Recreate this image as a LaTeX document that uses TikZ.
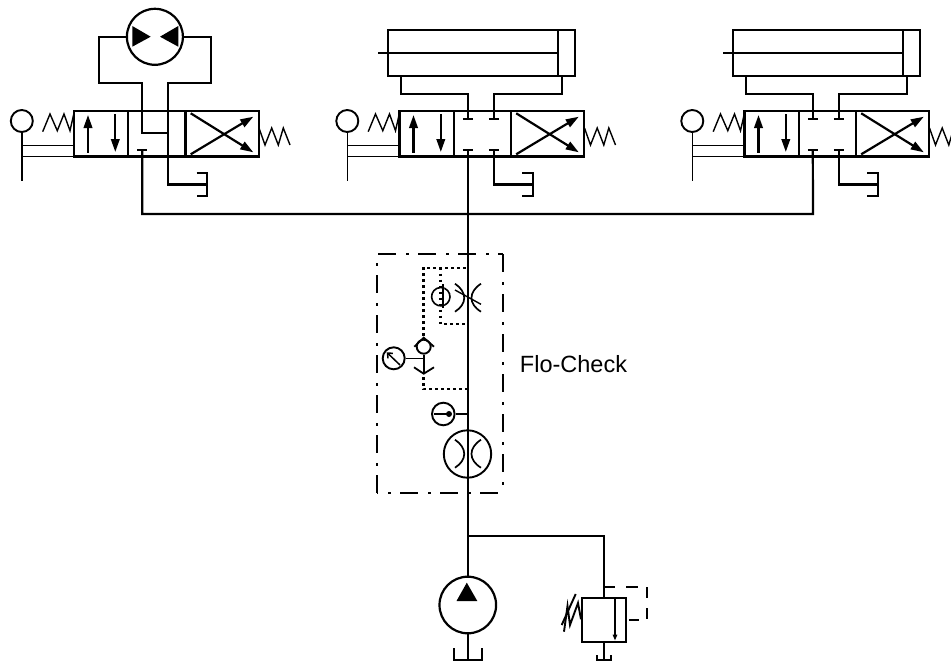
\documentclass[tikz,border=0pt]{standalone}
\usepackage{fontspec}
\setmainfont{Liberation Sans}
\usetikzlibrary{arrows.meta}
\tikzset{
  pipe/.style={line width=2.2pt,line join=miter},
  thin line/.style={line width=1.4pt},
  bigarrow/.style={line width=2.2pt,-{Triangle[length=13pt,width=8.5pt]}},
  pilot/.style={line width=2.3pt,dash pattern=on 2.6pt off 3.4pt},
  flobox/.style={line width=2.2pt,dash pattern=on 18pt off 10pt on 2.5pt off 9.5pt},
  round/.style={draw,circle,inner sep=0pt,minimum size=#1,line width=1.9pt},
  pics/tank/.style={code={
    \draw[pipe] (-10.6,-11.4) -- (0,-11.4) -- (0,11.4) -- (-10.6,11.4);
  }},
  pics/orifice/.style={code={
    \draw[line width=1.7pt] (-12.3,-14.3) .. controls (0,-6) and (0,6) .. (-12.3,13.7);
    \draw[line width=1.7pt] (13.7,-14.3) .. controls (1,-6) and (1,6) .. (13.7,13.7);
  }},
  pics/spool/.style={code={
    %% body and cells
    \draw[pipe] (0,110.8) rectangle (184.6,156.5);
    \draw[pipe] (54.3,110.8) -- (54.3,156.5);
    \draw[pipe] (111.4,110.8) -- (111.4,156.5);
    \draw[bigarrow] (14,152.5) -- (14,115);
    \draw[bigarrow] (41.3,114) -- (41.3,152);
    \draw[bigarrow] (116.7,113.3) -- (179.3,152.3);
    \draw[bigarrow] (116.7,154.3) -- (179.3,116.7);
    %% springs
    \draw[thin line] (-31.3,131.7) -- (-24,114) -- (-16.7,130.7) -- (-10,114) -- (-4,130.7) -- (0,113);
    \draw[thin line] (185,128) -- (191,145) -- (197.7,128) -- (204.3,145) -- (209.3,128) -- (216,145);
    %% hand lever
    \node[round=22pt] (-knob) at (-52.2,121) {};
    \draw[thin line] (-knob.south) -- (-52.2,181);
    \draw[thin line] (-52.2,145.3) -- (0,145.3);
    \draw[thin line] (-52.2,156.5) -- (0,156.5);
    %% inlet port
    \coordinate (-inlet) at (68.3,150.3);
    \draw[pipe] (63.3,150.3) -- (73.3,150.3);
    %% tank
    \coordinate (-drain) at (94.3,184.5);
    \coordinate (-sump) at (133.3,184.5);
    \pic at (133.3,184.5) {tank};
  }},
  pics/cylinder/.style={code={
    \draw[pipe] (-11.2,30) rectangle (175.4,76);
    \draw[pipe] (158.2,30) -- (158.2,76);
    \draw[pipe] (-21.2,53) -- (158.2,53);
    %% lines to the valve
    \draw[pipe] (1.5,76) |- (68.3,94) -- (68.3,118.7);
    \draw[pipe] (162.8,76) |- (94.3,94) -- (94.3,118.7);
    \draw[pipe] (63.3,118.7) -- (73.3,118.7);
    \draw[pipe] (89.3,118.7) -- (99.3,118.7);
    %% second lower port
    \draw[pipe] (89.3,150.3) -- (99.3,150.3);
    \draw[pipe] (94.3,150.3) |- (133.3,184.5);
  }},
}
\begin{document}
\begin{tikzpicture}[x=1pt,y=-1pt]
  \useasboundingbox (0,0) rectangle (951,661);
  \clip (0,0) rectangle (951,661);
  %% three valves
  \pic (vA) at (74,0) {spool};
  \pic (vB) at (399.5,0) {spool};
  \pic (vC) at (744.5,0) {spool};
  \pic at (399.5,0) {cylinder};
  \pic at (744.5,0) {cylinder};
  %% motor on the first valve
  \node[round=56pt,line width=2.2pt] (motor) at (154.9,36.8) {};
  \fill (132.3,26) -- (132.3,46.7) -- (150.7,36.7) -- cycle;
  \fill (178.3,26) -- (178.3,46.7) -- (160,36.7) -- cycle;
  \coordinate (mL) at (142.3,132.7);
  \coordinate (mR) at (168.3,132.7);
  \draw[pipe] (motor.west) -| (99.3,82.7) -| (mL) -- (mR);
  \draw[pipe] (motor.east) -| (210.7,82.7) -| (vA-drain) -- (vA-sump);
  %% pressure line
  \coordinate (busA) at (142.3,214);
  \coordinate (busC) at (813,214);
  \draw[pipe] (vA-inlet) -- (busA) -- (busC) -- (vC-inlet);
  %% pump and relief valve
  \node[round=56.6pt,line width=2.2pt] (pump) at (467.8,605) {};
  \fill (456.5,601) -- (477.3,601) -- (466.8,582.7) -- cycle;
  \draw[pipe] (vB-inlet) -- (467.8,577);
  \draw[pipe] (pump.south) -- (467.8,660) ;
  \draw[pipe] (454,648.3) |- (481.7,660) -- (481.7,648.3);
  \node[draw,line width=2.2pt,minimum width=44.6pt,minimum height=44.3pt,inner sep=0pt] (relief) at (604,619.8) {};
  \coordinate (tee) at (467.8,535.7);
  \draw[pipe] (tee) -| (relief.north);
  \draw[line width=1.4pt,-{Triangle[length=6pt,width=4.5pt]}] (615,597.7) -- (615,640.5);
  \draw[pipe] (relief.south) -- (604,660);
  \draw[pipe] (596.7,655) |- (611,660) -- (611,655);
  \draw[line width=1.9pt] (581,619.3) -- (578,603) -- (570,625) -- (567.5,606) -- (564,631.7);
  \draw[line width=1.9pt] (561.7,625) -- (575.7,594);
  %% pilot
  \draw[line width=2pt,dash pattern=on 12pt off 11pt] (603,587) -- (648,587);
  \draw[line width=2pt,dash pattern=on 11pt off 10pt] (647.3,587) -- (647.3,619);
  \draw[line width=2pt] (relief.east) ++(2,0) -- ++(10,0);
  %% flo-check housing
  \coordinate (fTL) at (376.7,254);
  \coordinate (fTR) at (503.3,254);
  \coordinate (fBR) at (503.3,493.3);
  \coordinate (fBL) at (376.7,493.3);
  \draw[flobox] (378.3,254) -- (fTR);
  \draw[flobox] (fTR) -- (fBR);
  \draw[flobox,dash phase=19pt] (fTL) -- (fBL);
  \draw[flobox,dash phase=16.7pt] (fBL) -- (fBR);
  \node (flocheck) at (573.5,364) {\fontsize{23.5pt}{23.5pt}\selectfont Flo-Check};
  %% inner symbols
  \pic at (467.3,298) {orifice};
  \draw[thin line] (455,290) -- (481,304.3);
  \coordinate (sense) at (440.8,296.7);
  \draw[line width=1.6pt] ([shift={(65:9.2)}]sense) arc (65:295:9.2);
  \draw[line width=1.6pt] ([shift={(-65:9.2)}]sense) arc (-65:65:9.2);
  \draw[pipe] (442.7,284.3) -- (442.7,308.3);
  \pic at (467.3,454) {orifice};
  \node[round=47.4pt] (flow) at (467.5,454) {};
  \node[round=22.6pt] (switch) at (443.3,414) {};
  \fill (449,414) circle (3);
  \draw[line width=1.6pt] (434,414) -- (449,414);
  \draw[line width=1.6pt] (switch.east) -- (467.3,414);
  %% check valve and gauge
  \node[round=14pt] (ball) at (423.7,346.7) {};
  \draw[line width=1.8pt] (414.3,346.7) -- (423.7,337.7) -- (434,346.7);
  \coordinate (seat) at (423.7,373.7);
  \draw[line width=1.8pt] (ball.south) -- (seat);
  \draw[line width=1.8pt] (414,367.3) -- (seat) -- (434,367.3);
  \node[round=22pt] (gauge) at (393.7,358.3) {};
  \draw[line width=1.6pt] (gauge.east) -- (423.7,358.3);
  \draw[line width=1.5pt,-{Straight Barb[length=4pt,width=7pt]}] (400,365) -- (386.7,352.3);
  %% dotted lines
  \draw[pilot] (423.5,336) |- (467,267.7);
  \draw[pilot] (440.6,267.7) |- (467,324.3);
  \draw[pilot] (423.5,377) |- (467,389.3);
\end{tikzpicture}
\end{document}
